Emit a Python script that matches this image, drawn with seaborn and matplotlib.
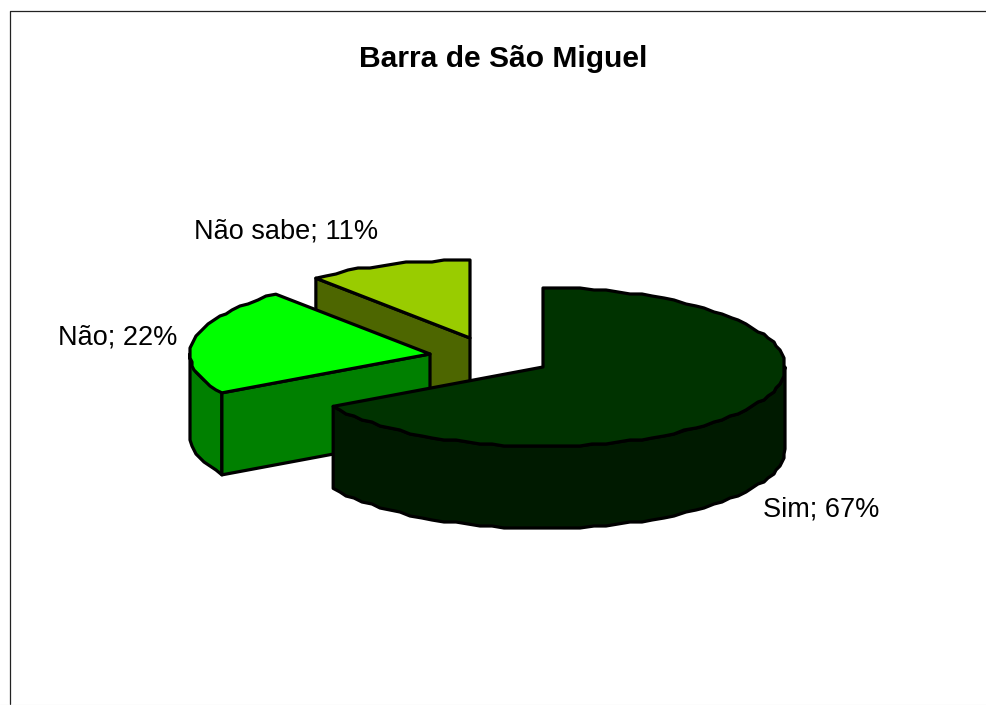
import numpy as np
import matplotlib
matplotlib.use("Agg")
import matplotlib.pyplot as plt
from matplotlib.patches import Polygon
import seaborn as sns

title = "Barra de São Miguel"
categories = ["Sim", "Não", "Não sabe"]
shares = [66.7, 22.2, 11.1]
top_colors = ["#003300", "#00FF00", "#99CC00"]
side_colors = ["#001A00", "#008000", "#4D6600"]

sns.set_theme(style="white")
plt.rcParams["font.family"] = ["Liberation Sans", "DejaVu Sans"]
top_pal = sns.color_palette(top_colors)
side_pal = sns.color_palette(side_colors)

fig = plt.figure(figsize=(9.86, 7.05), dpi=100, facecolor="white")
ax = fig.add_axes([0, 0, 1, 1])
ax.set_xlim(0, 986)
ax.set_ylim(705, 0)
ax.axis("off")

# layout of each exploded slice: centre of top face and radii, pixels
centres = [(543, 367), (430, 354), (470, 338)]
RX, RY, DEPTH = [242, 240, 240], [79, 78, 78], 82
LW = 2.3
GRID = 2.0


def rim(i, a0, a1):
    n = max(2, int(abs(a1 - a0) / 3) + 1)
    t = np.radians(np.linspace(a0, a1, n))
    cx, cy = centres[i]
    pts = np.column_stack([cx + RX[i] * np.sin(t), cy - RY[i] * np.cos(t)])
    # the reference outline is slightly wavy: snap inner vertices to a small grid
    if n > 2:
        pts[1:-1] = np.round(pts[1:-1] / GRID) * GRID
    return pts


def poly(pts, color, z):
    ax.add_patch(Polygon(pts, closed=True, facecolor=color, edgecolor="black",
                         linewidth=LW, joinstyle="round", zorder=z))


def down(pts):
    return pts + np.array([0, DEPTH])


edges = np.cumsum([0] + shares) * 3.6
spans = list(zip(edges[:-1], edges[1:]))

# draw back-to-front: Não sabe, Não, Sim
a0, a1 = spans[2]
c = np.array([centres[2]], float)
p = rim(2, a0, a0 + 0.001)[:1]
poly(np.vstack([p, c, down(c), down(p)]), side_pal[2], 1)
poly(np.vstack([c, rim(2, a0, a1)]), top_pal[2], 2)

a0, a1 = spans[1]
c = np.array([centres[1]], float)
arc = rim(1, a0, 270)
poly(np.vstack([arc, down(arc)[::-1]]), side_pal[1], 3)
p = arc[:1]
poly(np.vstack([p, c, down(c), down(p)]), side_pal[1], 3)
poly(np.vstack([c, rim(1, a0, a1)]), top_pal[1], 4)

a0, a1 = spans[0]
c = np.array([centres[0]], float)
arc = rim(0, 90, a1)
poly(np.vstack([arc, down(arc)[::-1]]), side_pal[0], 5)
poly(np.vstack([c, rim(0, a0, a1)]), top_pal[0], 6)

# frame of the chart area
ax.plot([9.5, 9.5, 986], [704, 10.5, 10.5], color="#222222", lw=0.9, zorder=0)
ax.plot([0, 986], [704.5, 704.5], color="#E8E8E8", lw=0.9, zorder=0)

ax.text(503, 59, title, ha="center", va="center", fontsize=21.6,
        fontweight="bold", color="black")

label_pos = [(821, 509), (118, 337), (286, 232)]
for name, v, (x, y) in zip(categories, shares, label_pos):
    ax.text(x, y, f"{name}; {v:.0f}%", ha="center", va="center",
            fontsize=19.5, color="black")

fig.savefig("out.png", dpi=100)
